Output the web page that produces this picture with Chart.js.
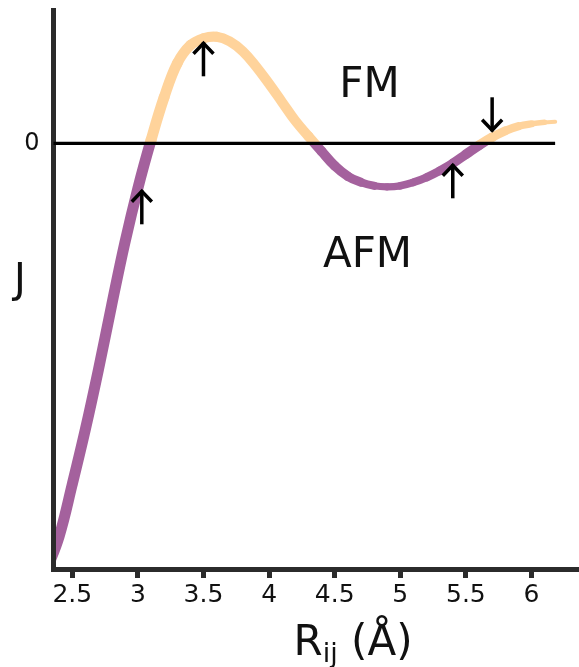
<!DOCTYPE html>
<html>
<head>
<meta charset="utf-8">
<script src="https://cdn.jsdelivr.net/npm/chart.js@4"></script>
<style>
  html, body { margin: 0; padding: 0; background: #ffffff; }
  canvas { display: block; }
</style>
</head>
<body>
<canvas id="chart" width="579" height="667"></canvas>
<script>
// ---------------- data ----------------
const distances = [2.30, 2.40, 2.50, 2.60, 2.70, 2.80, 2.90, 3.00, 3.10, 3.20,
                   3.30, 3.40, 3.50, 3.60, 3.70, 3.80, 3.90, 4.00, 4.10, 4.20,
                   4.30, 4.40, 4.50, 4.60, 4.70, 4.80, 4.90, 5.00, 5.10, 5.20,
                   5.30, 5.40, 5.50, 5.60, 5.70, 5.80, 5.90, 6.00, 6.10, 6.18];
const exchangeJ = [-4.28, -3.93, -3.41, -2.86, -2.26, -1.62, -1.00, -0.45, 0.03, 0.46,
                   0.80, 0.98, 1.05, 1.065, 1.02, 0.92, 0.77, 0.595, 0.41, 0.225,
                   0.07, -0.08, -0.225, -0.33, -0.39, -0.425, -0.435, -0.425, -0.39, -0.34,
                   -0.275, -0.20, -0.11, -0.02, 0.06, 0.125, 0.17, 0.195, 0.21, 0.215];
const xTickValues = [2.5, 3, 3.5, 4, 4.5, 5, 5.5, 6];
const yTickValues = [0];
const zeroLineX = [2.357, 6.18];
const zeroLineJ = [0, 0];
// spin arrows: x position, tail J, head J
const arrowX    = [3.03, 3.50, 5.40, 5.70];
const arrowTail = [-0.81, 0.67, -0.55, 0.46];
const arrowHead = [-0.48, 1.00, -0.22, 0.13];
const regionNames = ['FM', 'AFM'];
const regionX = [4.765, 4.75];
const regionJ = [0.463, -1.237];
const xTitleMain = 'R', xTitleSub = 'ij', xTitleRest = ' (Å)';
const yTitle = 'J';

// ---------------- styles ----------------
const ORANGE = '#ffd39b';
const PURPLE = '#a4619d';
const AXIS = '#2b2b2b';
const FONT = 'DejaVu Sans';

// ribbon width profile along x (style only)
const widthProfileX = [2.30, 3.1, 3.6, 4.3, 4.6, 4.87, 5.15, 5.6, 5.9, 6.18];
const widthProfileW = [11, 11, 10, 10, 9.5, 7, 8, 10, 8, 3.5];
function bandWidth(x) {
  for (let i = 1; i < widthProfileX.length; i++) {
    if (x <= widthProfileX[i]) {
      const t = (x - widthProfileX[i - 1]) / (widthProfileX[i] - widthProfileX[i - 1]);
      return widthProfileW[i - 1] + t * (widthProfileW[i] - widthProfileW[i - 1]);
    }
  }
  return widthProfileW[widthProfileW.length - 1];
}

function signGradient(ctx) {
  const chart = ctx.chart;
  const area = chart.chartArea;
  if (!area || !chart.scales.y) return PURPLE;
  const y0 = chart.scales.y.getPixelForValue(0);
  const g = chart.ctx.createLinearGradient(0, area.top, 0, area.bottom);
  const f = Math.min(1, Math.max(0, (y0 - area.top) / (area.bottom - area.top)));
  g.addColorStop(0, ORANGE);
  g.addColorStop(f, ORANGE);
  g.addColorStop(f, PURPLE);
  g.addColorStop(1, PURPLE);
  return g;
}

const annotationPlugin = {
  id: 'annotations',
  afterDatasetsDraw(chart) {
    const { ctx, scales: { x, y } } = chart;
    ctx.save();
    ctx.strokeStyle = '#000';
    ctx.lineWidth = 3.5;
    ctx.lineJoin = 'miter';
    ctx.lineCap = 'butt';
    for (let i = 0; i < arrowX.length; i++) {
      const px = x.getPixelForValue(arrowX[i]);
      const yt = y.getPixelForValue(arrowTail[i]);
      const yh = y.getPixelForValue(arrowHead[i]);
      const dir = Math.sign(yh - yt);
      ctx.beginPath();
      ctx.moveTo(px, yt);
      ctx.lineTo(px, yh + dir * 1);
      ctx.stroke();
      ctx.beginPath();
      ctx.moveTo(px - 10, yh - dir * 10.5);
      ctx.lineTo(px, yh);
      ctx.lineTo(px + 10, yh - dir * 10.5);
      ctx.stroke();
    }
    ctx.restore();
  },
  afterDraw(chart) {
    const { ctx, chartArea, scales: { x, y } } = chart;
    ctx.save();
    ctx.fillStyle = '#111';
    ctx.textBaseline = 'alphabetic';
    // region labels
    ctx.font = '42px "' + FONT + '"';
    ctx.textAlign = 'center';
    for (let i = 0; i < regionNames.length; i++) {
      ctx.fillText(regionNames[i], x.getPixelForValue(regionX[i]), y.getPixelForValue(regionJ[i]));
    }
    // y title (upright)
    ctx.textAlign = 'left';
    ctx.font = '40px "' + FONT + '"';
    ctx.fillText(yTitle, 14, y.getPixelForValue(-1.49));
    // x title with subscript
    const bigFont = '42px "' + FONT + '"';
    const subFont = '27px "' + FONT + '"';
    ctx.font = bigFont; const w1 = ctx.measureText(xTitleMain).width;
    ctx.font = subFont; const w2 = ctx.measureText(xTitleSub).width;
    ctx.font = bigFont; const w3 = ctx.measureText(xTitleRest).width;
    const total = w1 + w2 + w3;
    let cx = x.getPixelForValue(4.64) - total / 2;
    const base = chartArea.bottom + 86;
    ctx.textAlign = 'left';
    ctx.font = bigFont; ctx.fillText(xTitleMain, cx, base); cx += w1;
    ctx.font = subFont; ctx.fillText(xTitleSub, cx, base + 7); cx += w2;
    ctx.font = bigFont; ctx.fillText(xTitleRest, cx, base);
    ctx.restore();
  }
};

Chart.defaults.font.family = FONT;
Chart.defaults.color = '#111';

new Chart(document.getElementById('chart'), {
  type: 'line',
  data: {
    datasets: [
      {
        label: 'zero',
        data: zeroLineX.map((v, i) => ({ x: v, y: zeroLineJ[i] })),
        borderColor: '#000',
        borderWidth: 3.2,
        pointRadius: 0,
        order: 0,
        clip: false
      },
      {
        label: 'J(R)',
        data: distances.map((v, i) => ({ x: v, y: exchangeJ[i] })),
        borderColor: signGradient,
        borderWidth: 11,
        borderCapStyle: 'round',
        borderJoinStyle: 'round',
        tension: 0.4,
        pointRadius: 0,
        order: 1,
        clip: { left: -2.5, top: 20, right: 20, bottom: 20 },
        segment: {
          borderWidth: c => bandWidth((c.p0.parsed.x + c.p1.parsed.x) / 2)
        }
      }
    ]
  },
  options: {
    responsive: false,
    animation: false,
    devicePixelRatio: 1,
    layout: { padding: { top: 10, right: 0, bottom: 0, left: 0 } },
    plugins: { legend: { display: false }, tooltip: { enabled: false } },
    scales: {
      x: {
        type: 'linear',
        min: 2.357,
        max: 6.362,
        afterBuildTicks: s => { s.ticks = xTickValues.map(v => ({ value: v })); },
        afterFit: s => { s.height = 98; s.paddingLeft = 0; s.paddingRight = 0; },
        ticks: {
          font: { size: 25 },
          color: '#111',
          padding: 2,
          autoSkip: false,
          maxRotation: 0,
          callback: v => String(v)
        },
        grid: {
          drawOnChartArea: false,
          drawTicks: true,
          tickLength: 9,
          tickWidth: 5,
          tickColor: AXIS
        },
        border: { display: true, width: 5, color: AXIS }
      },
      y: {
        type: 'linear',
        min: -4.257,
        max: 1.333,
        afterBuildTicks: s => { s.ticks = yTickValues.map(v => ({ value: v })); },
        afterFit: s => { s.width = 53.5; s.paddingTop = 0; s.paddingBottom = 0; },
        ticks: { font: { size: 24 }, color: '#111', padding: 14 },
        grid: { drawOnChartArea: false, drawTicks: false },
        border: { display: true, width: 5, color: AXIS }
      }
    }
  },
  plugins: [annotationPlugin]
});
</script>
</body>
</html>
